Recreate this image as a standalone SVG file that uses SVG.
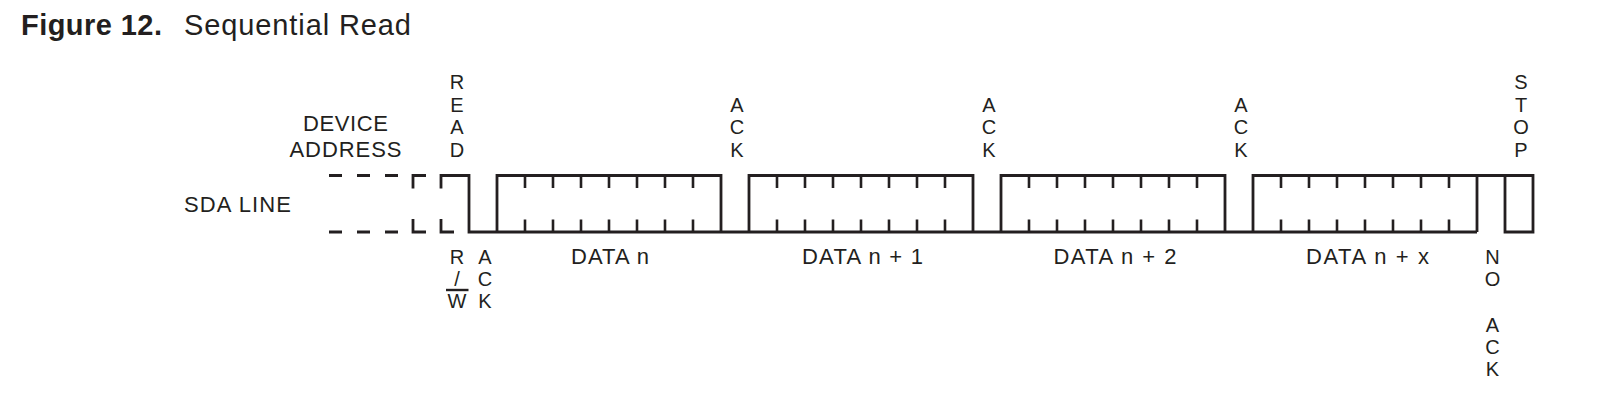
<svg xmlns="http://www.w3.org/2000/svg" width="1597" height="410" viewBox="0 0 1597 410">
  <style>
    .ln { fill: none; stroke: #231f20; stroke-width: 2.8; stroke-linejoin: miter; stroke-linecap: butt; }
    .tk { fill: none; stroke: #231f20; stroke-width: 2.6; }
    .lb { font-family: "Liberation Sans", Arial, Helvetica, sans-serif; font-size: 22px; fill: #231f20; }
    .vt { font-family: "Liberation Sans", Arial, Helvetica, sans-serif; font-size: 20px; fill: #231f20; text-anchor: middle; }
    .vc { text-anchor: middle; }
    .ttl { font-family: "Liberation Sans", Arial, Helvetica, sans-serif; font-size: 29px; fill: #231f20; }
  </style>
  <rect width="1597" height="410" fill="#ffffff"/>

  <g id="title">
    <text class="ttl" x="21" y="35" font-weight="bold" textLength="141" lengthAdjust="spacing">Figure 12.</text>
    <text class="ttl" x="184" y="35" textLength="227" lengthAdjust="spacing">Sequential Read</text>
  </g>

  <g id="left-labels">
    <text class="lb" x="345.5" y="130.5" text-anchor="middle" textLength="85" lengthAdjust="spacing">DEVICE</text>
    <text class="lb" x="345.5" y="157" text-anchor="middle" textLength="112" lengthAdjust="spacing">ADDRESS</text>
    <text class="lb" x="184" y="212.3" textLength="107" lengthAdjust="spacing">SDA LINE</text>
  </g>

  <g id="waveform">
    <path class="ln" d="M329,175.5 H342 M357,175.5 H370 M385,175.5 H398 M329,232 H342 M357,232 H370 M385,232 H398"/>
    <path class="ln" d="M413,188.5 V175.5 H426 M413,219 V232 H426 M441,219 V232 H454"/>
    <path class="ln" d="M441,188.5 V175.5 H469 V232 H1477"/>
    <path class="ln" d="M497,232 V175.5 H721 V232"/>
    <path class="ln" d="M749,232 V175.5 H973 V232"/>
    <path class="ln" d="M1001,232 V175.5 H1225 V232"/>
    <path class="ln" d="M1253,232 V175.5 H1533 V232 H1505 V175.5 M1477,175.5 V232"/>
    <path class="tk" d="
      M525,175.5 V188 M553,175.5 V188 M581,175.5 V188 M609,175.5 V188 M637,175.5 V188 M665,175.5 V188 M693,175.5 V188
      M525,219.5 V232 M553,219.5 V232 M581,219.5 V232 M609,219.5 V232 M637,219.5 V232 M665,219.5 V232 M693,219.5 V232
      M777,175.5 V188 M805,175.5 V188 M833,175.5 V188 M861,175.5 V188 M889,175.5 V188 M917,175.5 V188 M945,175.5 V188
      M777,219.5 V232 M805,219.5 V232 M833,219.5 V232 M861,219.5 V232 M889,219.5 V232 M917,219.5 V232 M945,219.5 V232
      M1029,175.5 V188 M1057,175.5 V188 M1085,175.5 V188 M1113,175.5 V188 M1141,175.5 V188 M1169,175.5 V188 M1197,175.5 V188
      M1029,219.5 V232 M1057,219.5 V232 M1085,219.5 V232 M1113,219.5 V232 M1141,219.5 V232 M1169,219.5 V232 M1197,219.5 V232
      M1281,175.5 V188 M1309,175.5 V188 M1337,175.5 V188 M1365,175.5 V188 M1393,175.5 V188 M1421,175.5 V188 M1449,175.5 V188
      M1281,219.5 V232 M1309,219.5 V232 M1337,219.5 V232 M1365,219.5 V232 M1393,219.5 V232 M1421,219.5 V232 M1449,219.5 V232"/>
  </g>

  <g id="top-labels">
    <text id="lbl-read" class="vt"><tspan x="457" y="89">R</tspan><tspan x="457" y="111.5">E</tspan><tspan x="457" y="134">A</tspan><tspan x="457" y="156.5">D</tspan></text>
    <text id="lbl-ack1" class="vt"><tspan x="737" y="111.5">A</tspan><tspan x="737" y="134">C</tspan><tspan x="737" y="156.5">K</tspan></text>
    <text id="lbl-ack2" class="vt"><tspan x="989" y="111.5">A</tspan><tspan x="989" y="134">C</tspan><tspan x="989" y="156.5">K</tspan></text>
    <text id="lbl-ack3" class="vt"><tspan x="1241" y="111.5">A</tspan><tspan x="1241" y="134">C</tspan><tspan x="1241" y="156.5">K</tspan></text>
    <text id="lbl-stop" class="vt"><tspan x="1521" y="89">S</tspan><tspan x="1521" y="111.5">T</tspan><tspan x="1521" y="134">O</tspan><tspan x="1521" y="156.5">P</tspan></text>
  </g>

  <g id="bottom-labels">
    <text id="lbl-rw" class="vt"><tspan x="457" y="264">R</tspan><tspan x="457" y="286">/</tspan><tspan x="457" y="308">W</tspan></text>
    <line x1="446" y1="290" x2="468.5" y2="290" stroke="#231f20" stroke-width="2.4"/>
    <text id="lbl-ack0" class="vt"><tspan x="485" y="264">A</tspan><tspan x="485" y="286">C</tspan><tspan x="485" y="308">K</tspan></text>
    <text class="lb vc" x="610" y="264" textLength="78" lengthAdjust="spacing">DATA n</text>
    <text class="lb vc" x="862.5" y="264" textLength="121" lengthAdjust="spacing">DATA n + 1</text>
    <text class="lb vc" x="1115" y="264" textLength="123" lengthAdjust="spacing">DATA n + 2</text>
    <text class="lb vc" x="1367.5" y="264" textLength="123" lengthAdjust="spacing">DATA n + x</text>
    <text id="lbl-noack" class="vt"><tspan x="1492.5" y="264">N</tspan><tspan x="1492.5" y="286">O</tspan><tspan x="1492.5" y="331.5">A</tspan><tspan x="1492.5" y="354">C</tspan><tspan x="1492.5" y="376">K</tspan></text>
  </g>
</svg>
